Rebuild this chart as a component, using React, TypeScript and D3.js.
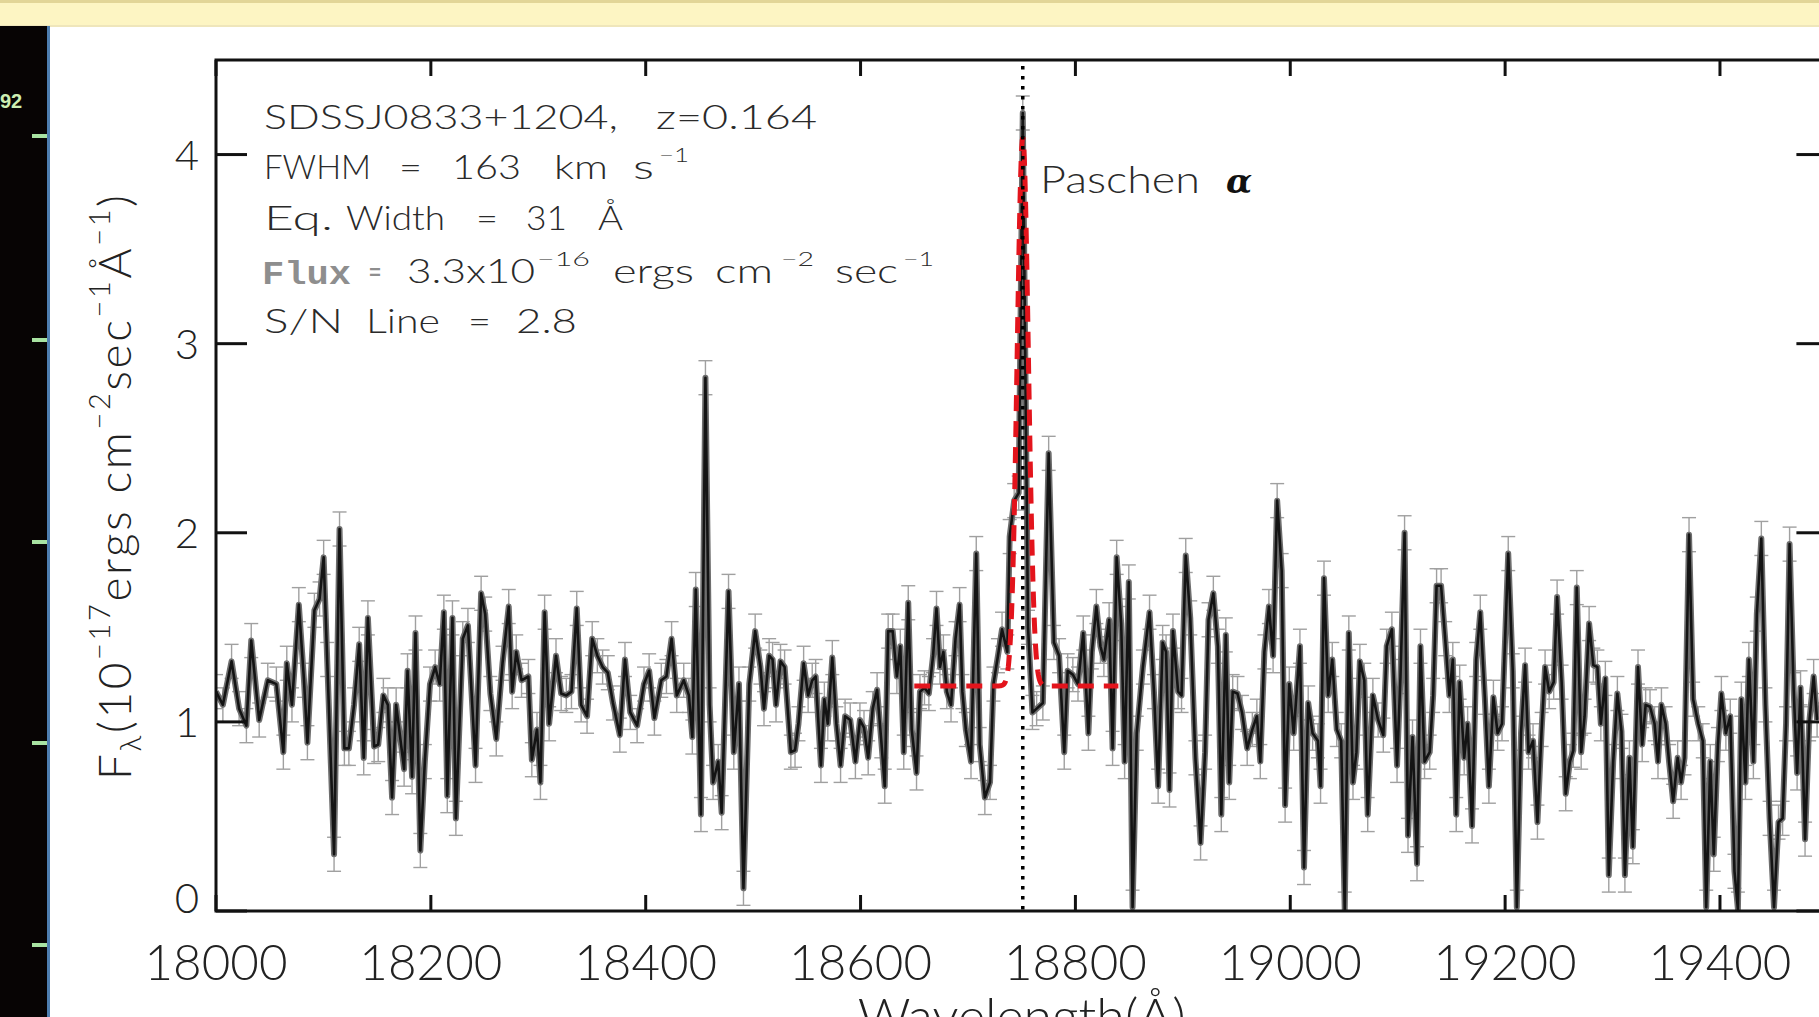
import React from 'react';
import * as d3 from 'd3';

const W = 1819;
const H = 1017;

// ---- data ----
const wavelengths = [
  18000.0, 18006.4, 18014.5, 18021.5, 18028.3, 18032.8, 18040.2, 18048.2, 18056.2, 18062.7,
  18065.9, 18070.7, 18077.1, 18081.9, 18085.1, 18091.6, 18096.4, 18100.2, 18103.5, 18109.9,
  18115.0, 18119.5, 18123.7, 18128.5, 18133.3, 18137.5, 18141.4, 18147.2, 18151.0, 18155.8,
  18160.0, 18163.9, 18167.7, 18175.1, 18178.3, 18182.5, 18185.7, 18190.2, 18194.4, 18199.2,
  18204.0, 18208.2, 18212.1, 18215.3, 18220.1, 18223.3, 18229.7, 18234.5, 18241.6, 18246.8,
  18250.6, 18255.4, 18260.9, 18266.7, 18272.5, 18275.7, 18279.5, 18284.4, 18290.8, 18294.0,
  18298.8, 18302.0, 18305.9, 18310.1, 18316.5, 18321.3, 18326.1, 18330.9, 18335.8, 18339.9,
  18345.4, 18350.2, 18355.0, 18359.9, 18364.7, 18369.5, 18375.9, 18380.7, 18385.6, 18392.0,
  18398.4, 18403.2, 18408.1, 18414.5, 18419.3, 18424.1, 18428.9, 18435.4, 18440.2, 18443.4,
  18446.6, 18451.4, 18455.6, 18459.5, 18462.7, 18467.5, 18470.7, 18477.1, 18482.0, 18486.8,
  18491.0, 18496.4, 18501.9,
  18506.8, 18510.1, 18514.9, 18518.1, 18521.3, 18525.5, 18529.3, 18535.1, 18539.0, 18542.2,
  18547.0, 18551.2, 18555.0, 18558.2, 18563.1, 18566.3, 18569.5, 18573.7, 18577.5, 18581.4,
  18585.6, 18590.4, 18595.2, 18599.4, 18603.2, 18607.1, 18611.3, 18615.4, 18619.3, 18622.5,
  18625.7, 18629.9, 18633.8, 18637.0, 18640.2, 18644.4, 18647.6, 18652.1, 18655.3, 18659.5,
  18663.6, 18667.5, 18670.7, 18673.9, 18677.1, 18680.3, 18684.2, 18688.4, 18692.2, 18694.8,
  18698.0, 18702.8, 18707.7, 18710.9, 18715.7, 18720.5, 18723.7, 18727.9, 18731.7, 18736.6,
  18738.8, 18743.0, 18747.2, 18751.0, 18755.9, 18760.0, 18763.9, 18769.7, 18775.1, 18780.0,
  18784.8, 18789.6, 18792.8, 18797.6, 18802.4, 18807.3, 18812.1, 18815.3, 18819.5, 18823.3,
  18826.5, 18831.4, 18834.6, 18838.4, 18842.6, 18845.8, 18849.7, 18853.2, 18857.1, 18862.8,
  18869.0, 18873.1, 18877.0, 18881.2, 18884.4, 18887.6, 18890.8, 18895.6, 18898.8, 18902.7,
  18906.9, 18911.7, 18916.5, 18920.7, 18923.9, 18928.4, 18932.6, 18935.8, 18940.0, 18943.2,
  18946.4, 18950.9, 18955.1, 18959.9, 18964.7, 18968.9, 18972.1, 18975.9, 18980.1, 18984.0,
  18987.8, 18992.0, 18995.2, 18999.1,
  19003.2, 19009.0, 19012.8, 19016.7, 19020.8, 19025.7, 19028.2, 19031.4, 19035.3, 19039.1,
  19043.3, 19047.4, 19050.7, 19054.5, 19058.4, 19061.6, 19064.8, 19068.9, 19072.1, 19076.9,
  19081.8, 19086.6, 19089.8, 19094.6, 19099.4, 19102.6, 19106.4, 19109.6, 19113.8, 19118.0,
  19121.2, 19125.0, 19129.8, 19133.0, 19136.2, 19140.4, 19144.2, 19148.1, 19151.3, 19154.5,
  19157.7, 19161.9, 19165.1, 19169.2, 19173.1, 19176.9, 19181.1, 19184.9, 19189.1, 19193.0,
  19197.1, 19202.9, 19207.1, 19210.9, 19214.8, 19218.6, 19221.8, 19226.0, 19230.1, 19234.0,
  19237.2, 19241.0, 19245.2, 19248.4, 19252.6, 19256.4, 19260.3, 19263.5, 19266.7, 19270.8,
  19274.0, 19278.2, 19282.1, 19285.9, 19289.1, 19293.3, 19296.5, 19300.6, 19304.5, 19308.3,
  19311.5, 19315.7, 19318.9, 19323.7, 19327.6, 19330.8, 19334.9, 19339.1, 19342.3, 19345.5,
  19349.4, 19352.6, 19356.4, 19360.6, 19363.8, 19367.0, 19371.2, 19375.0, 19379.8, 19384.0,
  19387.2, 19391.0, 19394.2, 19398.1, 19401.3, 19405.5, 19409.6, 19413.5, 19416.7, 19419.9,
  19423.7, 19426.9, 19431.1, 19434.3, 19438.5, 19442.3, 19446.2, 19450.3, 19454.5, 19458.3,
  19461.5, 19464.8, 19468.6, 19471.8, 19475.0, 19479.2, 19483.0, 19487.2, 19490.4,
];

const flux = [
  1.16, 1.09, 1.32, 1.07, 0.98, 1.43, 1.01, 1.22, 1.20, 0.84,
  1.31, 1.09, 1.62, 1.22, 0.89, 1.59, 1.65, 1.87, 1.33, 0.30,
  2.02, 0.86, 0.86, 1.09, 1.41, 0.81, 1.55, 0.87, 0.88, 1.14,
  1.09, 0.60, 1.09, 0.75, 1.27, 0.71, 1.47, 0.32, 0.79, 1.20,
  1.29, 1.20, 1.58, 0.61, 1.55, 0.49, 1.44, 1.51, 0.77, 1.68,
  1.57, 1.15, 0.91, 1.31, 1.61, 1.16, 1.37, 1.22, 1.24, 0.80,
  0.96, 0.68, 1.58, 0.99, 1.35, 1.15, 1.14, 1.16, 1.60, 1.09,
  1.03, 1.44, 1.35, 1.29, 1.26, 1.10, 0.93, 1.33, 1.05, 0.98,
  1.20, 1.27, 1.02, 1.22, 1.24, 1.44, 1.14, 1.22, 1.14, 0.92,
  1.70, 0.51, 2.82, 1.09, 0.68, 0.79, 0.52, 1.69, 0.84, 1.20,
  0.12, 1.20, 1.48,
  1.29, 1.07, 1.35, 1.33, 1.09, 1.32, 1.29, 0.84, 0.85, 0.99,
  1.31, 1.14, 1.22, 1.24, 0.77, 1.12, 0.99, 1.34, 0.99, 0.77,
  1.03, 1.01, 0.79, 1.01, 0.97, 0.81, 1.07, 1.17, 0.90, 0.66,
  1.48, 1.48, 1.24, 1.40, 0.84, 1.63, 0.96, 0.73, 1.16, 1.18,
  1.15, 1.35, 1.60, 1.29, 1.37, 1.16, 1.09, 1.44, 1.62, 1.16,
  0.96, 0.79, 1.89, 0.88, 0.60, 0.68, 1.20, 1.35, 1.49, 1.37,
  1.98, 2.17, 2.21, 4.22, 1.50, 1.05, 1.07, 1.10, 2.42, 1.42,
  1.35, 0.84, 1.27, 1.25, 1.20, 1.47, 0.94, 1.37, 1.61, 1.40,
  1.33, 1.54, 0.86, 1.87, 1.52, 0.79, 1.74, 0.02, 0.94, 1.29,
  1.58, 1.16, 0.66, 1.42, 1.37, 0.64, 1.48, 1.16, 1.14, 1.88,
  1.55, 0.81, 0.36, 0.84, 1.54, 1.68, 1.40, 0.51, 1.46, 0.68,
  1.16, 1.15, 1.05, 0.86, 0.96, 1.03, 0.79, 1.37, 1.61, 1.35,
  2.17, 1.80, 0.56, 1.20,
  0.94, 1.40, 0.23, 1.10, 0.94, 0.90, 0.66, 1.76, 1.14, 1.33,
  0.96, 0.90, 0.01, 1.47, 0.68, 0.84, 1.32, 1.22, 0.51, 1.14,
  1.01, 0.93, 1.40, 1.49, 0.77, 1.24, 2.00, 0.40, 0.92, 0.25,
  1.40, 0.79, 0.84, 1.14, 1.72, 1.72, 1.44, 1.14, 1.33, 0.51,
  1.21, 0.81, 0.99, 0.45, 1.33, 1.58, 1.13, 0.66, 1.13, 0.94,
  0.99, 1.89, 1.27, 0.02, 0.94, 1.30, 0.84, 0.90, 0.47, 0.96,
  1.29, 1.16, 1.21, 1.66, 1.21, 0.62, 0.79, 0.85, 1.71, 0.84,
  1.03, 1.52, 1.30, 1.29, 0.99, 1.23, 0.19, 0.79, 1.15, 0.95,
  0.19, 0.81, 0.34, 1.29, 0.88, 1.09, 1.08, 0.99, 0.79, 1.09,
  0.99, 0.79, 0.58, 0.81, 0.68, 0.81, 1.99, 1.12, 0.99, 0.90,
  0.02, 0.79, 0.30, 0.88, 1.15, 0.94, 1.03, 0.21, 0.01, 1.12,
  0.68, 1.33, 0.79, 1.57, 1.97, 1.09, 0.49, 0.02, 0.47, 0.49,
  0.99, 1.94, 1.17, 0.73, 1.18, 0.38, 0.99, 1.24, 1.01,
];

const FLUX_ERR = 0.09;

const xTicks = [18000, 18200, 18400, 18600, 18800, 19000, 19200, 19400];
const yTicks = [0, 1, 2, 3, 4];
const X_DOMAIN = [18000, 19500];
const Y_DOMAIN = [0, 4.5];

// Gaussian fit to Paschen alpha
const LINE_CENTER = 18751;
const FIT_CONTINUUM = 1.19;
const FIT_AMPLITUDE = 2.9;
const FIT_SIGMA = 5.2;
const FIT_RANGE = [18650, 18840];

// ---- layout ----
const PL = 216, PR = 1827.4, PT = 60, PB = 911;

const x = d3.scaleLinear().domain(X_DOMAIN).range([PL, PR]);
const y = d3.scaleLinear().domain(Y_DOMAIN).range([PB, PT]);

const pts = wavelengths.map((w, i) => ({ w, f: flux[i] }));
const lineGen = d3.line<{ w: number; f: number }>().x(d => x(d.w)).y(d => y(d.f));

const fitPts = d3.range(FIT_RANGE[0], FIT_RANGE[1] + 0.01, 0.5).map(w => ({
  w,
  f: FIT_CONTINUUM + FIT_AMPLITUDE * Math.exp(-0.5 * ((w - LINE_CENTER) / FIT_SIGMA) ** 2),
}));

const TXT = "Lato, 'Liberation Sans', sans-serif";
const INK = '#222';
const LIGHT = 300;

type Seg = { t: string; x: number; len: number; sup?: boolean };
const annotLines: { base: number; segs: Seg[] }[] = [
  { base: 129, segs: [
    { t: 'SDSSJ0833+1204,', x: 264, len: 354 },
    { t: 'z=0.164', x: 656, len: 161 },
  ] },
  { base: 179, segs: [
    { t: 'FWHM', x: 264, len: 107 },
    { t: '=', x: 399, len: 23 },
    { t: '163', x: 452, len: 69 },
    { t: 'km', x: 554, len: 54 },
    { t: 's', x: 633, len: 21 },
    { t: '\u22121', x: 659, len: 30, sup: true },
  ] },
  { base: 230, segs: [
    { t: 'Eq.', x: 264, len: 69 },
    { t: 'Width', x: 346, len: 99 },
    { t: '=', x: 476, len: 22 },
    { t: '31', x: 526, len: 41 },
    { t: '\u00C5', x: 598, len: 25 },
  ] },
  { base: 283, segs: [
    { t: '3.3x10', x: 407, len: 128 },
    { t: '\u221216', x: 537, len: 53, sup: true },
    { t: 'ergs', x: 613, len: 81 },
    { t: 'cm', x: 715, len: 58 },
    { t: '\u22122', x: 781, len: 33, sup: true },
    { t: 'sec', x: 835, len: 63 },
    { t: '\u22121', x: 903, len: 31, sup: true },
  ] },
  { base: 333, segs: [
    { t: 'S/N', x: 264, len: 79 },
    { t: 'Line', x: 366, len: 74 },
    { t: '=', x: 468, len: 23 },
    { t: '2.8', x: 516, len: 61 },
  ] },
];

const greenMarks = [134, 338, 540, 741, 943];

export default function App() {
  const clipId = 'plotClip';
  const specPath = lineGen(pts) || '';
  return (
    <svg width={W} height={H} viewBox={`0 0 ${W} ${H}`}
      style={{ position: 'absolute', left: 0, top: 0, background: '#fff' }}>
      <rect x={0} y={0} width={W} height={H} fill="#fff" />
      {/* top yellow bar */}
      <rect x={0} y={0} width={W} height={26} fill="#fdf5c3" />
      <rect x={0} y={0} width={W} height={3} fill="#e2d597" />
      <rect x={0} y={25} width={W} height={2} fill="#efe6bb" />
      {/* left dark image strip */}
      <rect x={0} y={26} width={47} height={H - 26} fill="#070404" />
      <rect x={47} y={26} width={3} height={H - 26} fill="#4e7eb0" />
      {greenMarks.map(g => (
        <rect key={g} x={32} y={g} width={15} height={4} fill="#a8e3a2" />
      ))}
      <text x={0} y={108} fontFamily="'Liberation Sans', Arial, sans-serif" fontWeight="bold"
        fontSize={20} fill="#cdeeb2">92</text>

      <defs>
        <clipPath id={clipId}>
          <rect x={PL} y={PT} width={PR - PL} height={PB - PT} />
        </clipPath>
      </defs>

      <g clipPath={`url(#${clipId})`}>
        {/* error bars */}
        <g stroke="#a0a0a0" strokeWidth={1.4} fill="none">
          {pts.map((d, i) => {
            const cx = x(d.w);
            const y1 = y(d.f - FLUX_ERR);
            const y2 = y(d.f + FLUX_ERR);
            return (
              <g key={i}>
                <line x1={cx} x2={cx} y1={y1} y2={y2} />
                <line x1={cx - 7} x2={cx + 7} y1={y1} y2={y1} />
                <line x1={cx - 7} x2={cx + 7} y1={y2} y2={y2} />
              </g>
            );
          })}
        </g>
        {/* spectrum */}
        <path d={specPath} fill="none" stroke="#6e6e6e" strokeWidth={6}
          strokeLinejoin="round" />
        <path d={specPath} fill="none" stroke="#141414" strokeWidth={2.6}
          strokeLinejoin="round" />
        {/* gaussian fit */}
        <path d={lineGen(fitPts) || ''} fill="none" stroke="#e3141c" strokeWidth={5}
          strokeDasharray="16 10" />
        {/* line centre */}
        <line x1={x(LINE_CENTER)} x2={x(LINE_CENTER)} y1={PT + 6} y2={PB} stroke="#000"
          strokeWidth={3.5} strokeDasharray="3.5 6.5" />
      </g>

      {/* axes box */}
      <rect x={PL} y={PT} width={PR - PL} height={PB - PT} fill="none" stroke="#111" strokeWidth={3} />
      {xTicks.map(t => (
        <g key={t} stroke="#111" strokeWidth={3}>
          <line x1={x(t)} x2={x(t)} y1={PB} y2={PB - 16} />
          <line x1={x(t)} x2={x(t)} y1={PT} y2={PT + 16} />
        </g>
      ))}
      {yTicks.map(t => (
        <g key={t} stroke="#111" strokeWidth={3}>
          <line x1={PL} x2={PL + 31} y1={y(t)} y2={y(t)} />
          <line x1={PR} x2={PR - 31} y1={y(t)} y2={y(t)} />
        </g>
      ))}

      {/* tick labels */}
      {xTicks.map(t => (
        <text key={t} x={x(t)} y={980} textAnchor="middle" fontFamily={TXT} fontSize={49}
          fontWeight={LIGHT} fill={INK} textLength={143} lengthAdjust="spacingAndGlyphs">{t}</text>
      ))}
      {yTicks.map(t => (
        <text key={t} x={199} y={Math.min(y(t) + 15, PB + 2)} textAnchor="end" fontFamily={TXT}
          fontWeight={LIGHT} fontSize={42} fill={INK}>{t}</text>
      ))}

      {/* axis titles */}
      <text x={(PL + PR) / 2} y={1034} textAnchor="middle" fontFamily={TXT} fontSize={50}
        fontWeight={LIGHT} fill={INK} textLength={328} lengthAdjust="spacingAndGlyphs">Wavelength(Å)</text>
      <text transform="translate(131,780) rotate(-90)" fontFamily={TXT} fontSize={46}
        fontWeight={LIGHT} fill={INK} textLength={585} lengthAdjust="spacing">
        <tspan>F</tspan>
        <tspan fontSize={30} dy={10}>λ</tspan>
        <tspan dy={-10}>(10</tspan>
        <tspan fontSize={29} dy={-21}>−17</tspan>
        <tspan dy={21}>ergs cm</tspan>
        <tspan fontSize={29} dy={-21}>−2</tspan>
        <tspan dy={21}>sec</tspan>
        <tspan fontSize={29} dy={-21}>−1</tspan>
        <tspan dy={21}>Å</tspan>
        <tspan fontSize={29} dy={-21}>−1</tspan>
        <tspan dy={21}>)</tspan>
      </text>

      {/* annotation */}
      {annotLines.map((ln, i) => (
        <g key={i}>
          {ln.segs.map((s, j) => (
            <text key={j} x={s.x} y={s.sup ? ln.base - 17 : ln.base} fontFamily={TXT}
              fontWeight={LIGHT} fontSize={s.sup ? 20 : 33} fill="#2a2a2a" textLength={s.len}
              lengthAdjust="spacingAndGlyphs">{s.t}</text>
          ))}
        </g>
      ))}
      <text x={262} y={284} fontFamily="'Liberation Mono', 'Courier New', monospace" fontWeight="bold"
        fontSize={33} fill="#8e8e8e" textLength={89} lengthAdjust="spacingAndGlyphs">Flux</text>
      <text x={369} y={279} fontFamily="'Liberation Mono', monospace" fontWeight="bold"
        fontSize={20} fill="#8e8e8e">=</text>

      <text x={1040} y={193} fontFamily={TXT} fontSize={37} fontWeight={LIGHT} fill="#2a2a2a"
        textLength={160} lengthAdjust="spacingAndGlyphs">Paschen</text>
      <text x={1226} y={193} fontFamily="'DejaVu Serif', serif" fontStyle="italic" fontWeight="bold"
        fontSize={34} fill="#111">α</text>
    </svg>
  );
}
